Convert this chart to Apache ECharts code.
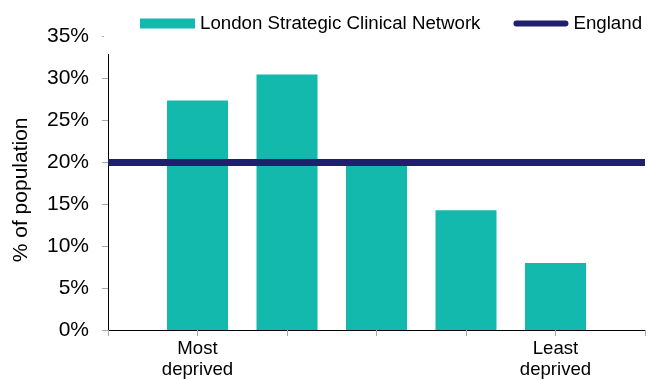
<!DOCTYPE html>
<html>
<head>
<meta charset="utf-8">
<script src="https://cdn.jsdelivr.net/npm/echarts@6/dist/echarts.min.js"></script>
<style>
  html, body { margin: 0; padding: 0; background: #fff; }
  #chart { width: 648px; height: 380px; }
</style>
</head>
<body>
<div id="chart"></div>
<script>
// Deprivation quintiles; the first and last slots are empty padding so the
// bars sit centred on the tick marks.
const categories = ['', 'Most\ndeprived', '', '', '', 'Least\ndeprived', ''];
const londonValues = [null, 27.4, 30.5, 19.8, 14.3, 8.0, null];
const englandValues = [20, 20, 20, 20, 20, 20, 20];
const yTicks = [0, 5, 10, 15, 20, 25, 30, 35];

const FONT = '"Liberation Sans", Arial, sans-serif';
const TEAL = '#14b9ad';
const NAVY = '#1f206a';

// Legend key for the England line: a round-ended bar, padded top and bottom
// by empty sub-paths so it draws thinner than the item box.
const ENGLAND_ICON = 'path://M0,0L0,0Z M3,2L54,2A3,3 0 0 1 54,8L3,8A3,3 0 0 1 3,2Z M57,10L57,10Z';

const chart = echarts.init(document.getElementById('chart'));
chart.setOption({
  animation: false,
  backgroundColor: '#fff',
  textStyle: { fontFamily: FONT, color: '#000' },
  legend: {
    left: 104,
    top: 0,
    width: 600,
    padding: [14, 0, 21, 36],
    backgroundColor: '#fff',
    itemGap: 33,
    itemWidth: 55,
    itemHeight: 10,
    itemTextGap: 5,
    textStyle: { fontFamily: FONT, fontSize: 18.7, color: '#000' },
    data: [
      { name: 'London Strategic Clinical Network', icon: 'rect' },
      { name: 'England', icon: ENGLAND_ICON }
    ]
  },
  grid: { left: 108, right: 0, top: 36.7, bottom: 47, containLabel: false },
  xAxis: {
    type: 'category',
    data: categories,
    boundaryGap: false,
    axisLine: { show: true, lineStyle: { color: '#000', width: 1 } },
    axisTick: { show: true, interval: 0, length: 6, lineStyle: { color: '#a6a6a6' } },
    axisLabel: {
      interval: 0, margin: 8, fontSize: 18.6, lineHeight: 21,
      color: '#000', fontFamily: FONT
    },
    splitLine: { show: false }
  },
  yAxis: {
    type: 'value',
    min: yTicks[0],
    max: yTicks[yTicks.length - 1],
    interval: 5,
    name: '% of population',
    nameLocation: 'middle',
    nameGap: 76,
    nameTextStyle: { fontSize: 21, color: '#000', fontFamily: FONT, padding: [0, 13, 0, 0] },
    axisLine: { show: true, lineStyle: { color: '#000', width: 1 } },
    axisTick: { show: true, length: 6, lineStyle: { color: '#a6a6a6' } },
    axisLabel: {
      margin: 19, fontSize: 21, color: '#000', fontFamily: FONT,
      formatter: v => v + '%'
    },
    splitLine: { show: false }
  },
  series: [
    {
      name: 'London Strategic Clinical Network',
      type: 'bar',
      data: londonValues,
      barWidth: 61,
      itemStyle: { color: TEAL }
    },
    {
      name: 'England',
      type: 'line',
      data: englandValues,
      symbol: 'none',
      lineStyle: { color: NAVY, width: 7, cap: 'butt' },
      itemStyle: { color: NAVY }
    }
  ]
});
</script>
</body>
</html>
